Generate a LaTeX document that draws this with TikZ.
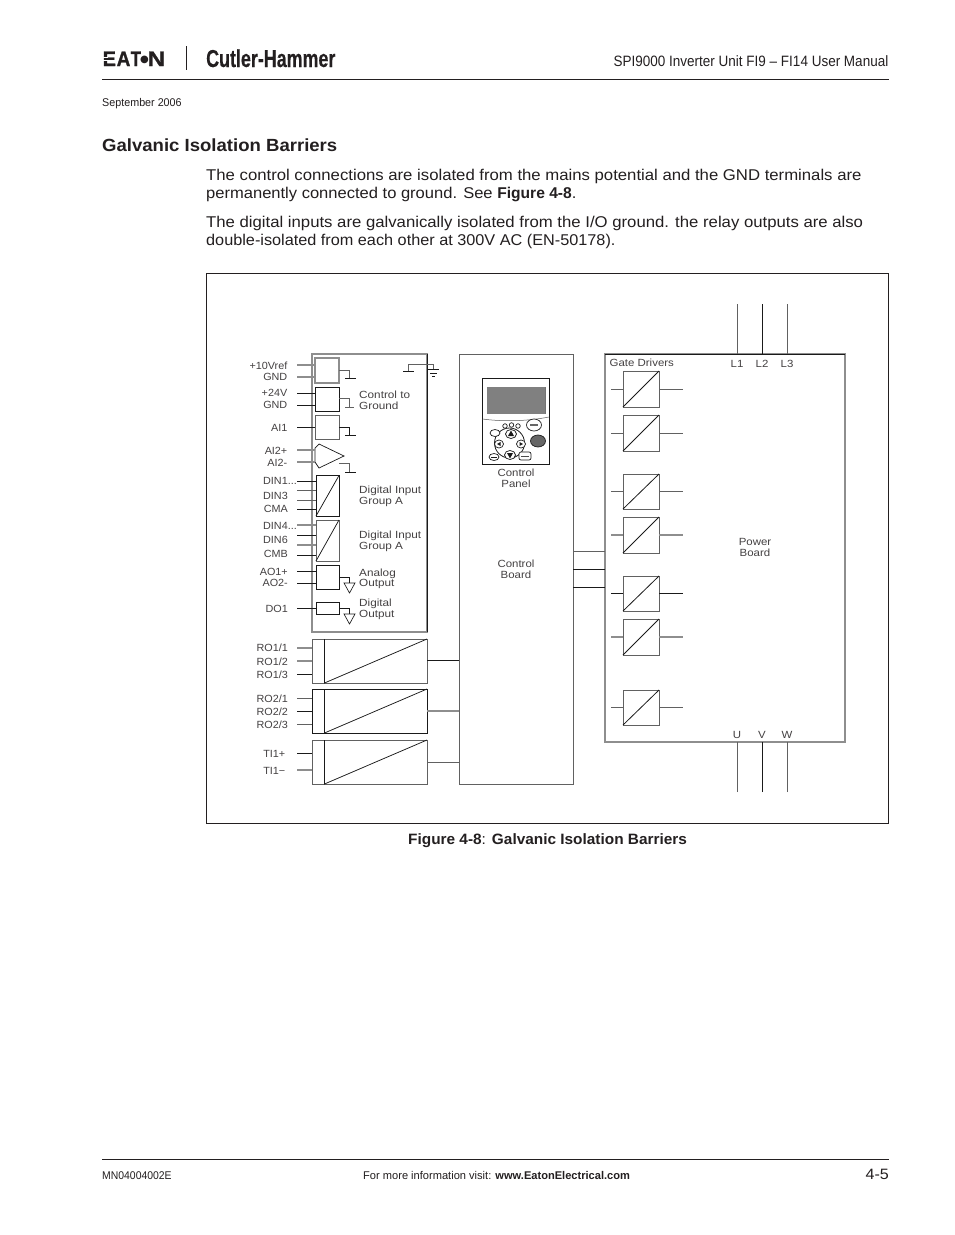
\documentclass[tikz,border=0pt]{standalone}
\usepackage{fontspec}
\setmainfont{Liberation Sans}[FakeStretch=1.072]
\newfontfamily\bodyb[FakeStretch=1.06]{Liberation Sans}
\newfontfamily\bodyc[FakeStretch=1.042]{Liberation Sans}
\newfontfamily\bodybf[FakeStretch=1.0]{Liberation Sans Bold}
\newfontfamily\headfont[FakeStretch=1.054]{Liberation Sans Bold}
\newfontfamily\capfont[FakeStretch=1.026]{Liberation Sans Bold}
\newfontfamily\caprfont[FakeStretch=1.026]{Liberation Sans}
\newfontfamily\manfont[FakeStretch=0.90]{Liberation Sans}
\newfontfamily\datefont[FakeStretch=0.96]{Liberation Sans}
\newfontfamily\footfont[FakeStretch=0.93]{Liberation Sans}
\newfontfamily\footnfont[FakeStretch=0.99]{Liberation Sans}
\newfontfamily\footbfont[FakeStretch=0.99]{Liberation Sans Bold}
\newfontfamily\labfont[FakeStretch=1.1]{Liberation Sans}
\newfontfamily\lableft[FakeStretch=1.04]{Liberation Sans}
\newfontfamily\labright[FakeStretch=1.13]{Liberation Sans}
\newfontfamily\heavycond[FakeStretch=0.73,FakeBold=0.3]{Liberation Sans Bold}
\newfontfamily\logoE[FakeStretch=0.95,FakeBold=1.2]{Liberation Sans Bold}
\newfontfamily\logoA[FakeStretch=0.9,FakeBold=1.2]{Liberation Sans Bold}
\newfontfamily\logoT[FakeStretch=0.8,FakeBold=1.2]{Liberation Sans Bold}
\newfontfamily\logoN[FakeStretch=1.15,FakeBold=1.2]{Liberation Sans Bold}
\newfontfamily\logoO{DejaVu Sans}
\definecolor{ink}{HTML}{231F20}
\definecolor{midg}{HTML}{8E8E8E}
\definecolor{dk}{HTML}{1A1A1A}
\usetikzlibrary{shapes.geometric}
\tikzset{
  page/.style={inner sep=0pt,text=ink,anchor=base west},
  lab/.style={inner sep=0pt,text=ink!85,font=\lableft\fontsize{10.4}{10.4}\selectfont,anchor=base east},
  labl/.style={inner sep=0pt,text=ink!85,font=\labright\fontsize{10.4}{10.4}\selectfont,anchor=base west},
  labc/.style={inner sep=0pt,text=ink!85,font=\labfont\fontsize{10.4}{10.4}\selectfont,anchor=base},
  wd/.style={draw=dk,line width=0.75pt},
  wg/.style={draw=midg,line width=1.1pt},
  wm/.style={draw=black!62,line width=0.9pt},
  btn/.style={draw=dk,line width=0.7pt,fill=white,ellipse,inner sep=0pt}
}
% name, left, top, right, bottom, style
\newcommand{\rbox}[6]{\pgfmathsetmacro\bw{#4-#2}\pgfmathsetmacro\bh{#5-#3}%
  \node[#6,rectangle,inner sep=0pt,outer sep=0pt,minimum width=\bw pt,minimum height=\bh pt,anchor=north west,fill=white] (#1) at (#2,#3) {};}
% lead from a free end to the west side of a box: id, x, y, box, style
\newcommand{\leadw}[5]{\coordinate (#1) at (#2,#3);\draw[#5] (#1) -- (#1 -| #4.west);}
% isolated converter with leads
\newcommand{\drv}[4]{\rbox{#1}{623}{#2}{659}{#3}{wm}
  \draw[wd,line width=0.8pt] (#1.south west) -- (#1.north east);
  \coordinate (#1a) at (611,{(#2+#3)/2});\coordinate (#1b) at (683,{(#2+#3)/2});
  \draw[#4] (#1a) -- (#1a -| #1.west);\draw[#4] (#1.east |- #1b) -- (#1b);}
\begin{document}
\begin{tikzpicture}[x=1pt,y=-1pt]
\useasboundingbox[fill=white] (0,0) rectangle (954,1235);
% ---------- page header
\node[page,font=\logoE\fontsize{21}{21}\selectfont] (lE) at (102.5,66) {E};
\node[page,font=\logoA\fontsize{21}{21}\selectfont] (lA) at (116.5,66) {A};
\node[page,font=\logoT\fontsize{21}{21}\selectfont] (lT) at (130.5,66) {T};
\node[page,font=\logoO\fontsize{10}{10}\selectfont] (lO) at (140,62.5) {●};
\node[page,font=\logoN\fontsize{21}{21}\selectfont] (lN) at (147.5,66) {N};
\fill[white] (102,57) rectangle (108,58.2);
\fill[white] (102,60) rectangle (108,61.2);
\draw[ink,line width=0.9pt] (186,46) -- (186,70);
\node[page,font=\heavycond\fontsize{24.5}{24.5}\selectfont] (brand) at (206,67) {Cutler-Hammer};
\node[inner sep=0pt,text=ink,anchor=base east,font=\manfont\fontsize{15}{15}\selectfont] (manual) at (888.5,66) {SPI9000 Inverter Unit FI9 – FI14 User Manual};
\draw[ink,line width=0.9pt] (102,79.5) -- (889,79.5);
\node[page,font=\datefont\fontsize{11.2}{11.2}\selectfont] (date) at (102,106) {September 2006};
\node[page,font=\headfont\fontsize{17.6}{17.6}\selectfont] (head) at (102,151.5) {Galvanic Isolation Barriers};
% ---------- body
\node[page,font=\fontsize{15.6}{15.6}\selectfont] (b1) at (206,180) {The control connections are isolated from the mains potential and the GND terminals are};
\node[page,font=\bodyb\fontsize{15.6}{15.6}\selectfont] (b2) at (206,198) {permanently connected to ground. See {\bodybf Figure 4-8}.};
\node[page,font=\fontsize{15.6}{15.6}\selectfont] (b3) at (206,227) {The digital inputs are galvanically isolated from the I/O ground. the relay outputs are also};
\node[page,font=\bodyc\fontsize{15.6}{15.6}\selectfont] (b4) at (206,245) {double-isolated from each other at 300V AC (EN-50178).};
% ---------- figure frame
\draw[ink,line width=0.8pt] (206.5,273.5) rectangle (888.5,823);
\node[page,font=\fontsize{15}{15}\selectfont] (cap) at (408,844) {{\capfont Figure 4-8}{\caprfont :} {\capfont Galvanic Isolation Barriers}};
% ---------- I/O block
\rbox{io}{312}{354}{427}{632}{wg}
\draw[wd] (io.north east) -- (io.south east);
\rbox{b1v}{315}{358}{339}{383}{wg}
\rbox{b24}{315}{387}{339}{411}{wd}
\rbox{bai}{315}{415}{339}{439}{wm}
\draw[wd,line width=0.7pt] (315,448) -- (319,444) -- (344,456) -- (319,468) -- (315,462) -- cycle;
\coordinate (ai2n) at (315,450);\coordinate (ai2s) at (315,462);\coordinate (ai2o) at (339,463);
\rbox{dA}{316}{475.5}{339}{516}{wd}
\draw[wd] (dA.south west) -- (dA.north east);
\rbox{dB}{316}{520}{339}{561}{wm}
\draw[wd] (dB.south west) -- (dB.north east);
\rbox{ao}{316}{565}{339}{589}{wd}
\rbox{do}{316}{602}{339}{614}{wd}
% leads to I/O blocks
\leadw{a1}{297}{365}{b1v}{wg}
\leadw{a2}{297}{377}{b1v}{wg}
\leadw{a3}{297}{393}{b24}{wd}
\leadw{a4}{297}{405}{b24}{wd}
\leadw{a5}{297}{427}{bai}{wd}
\coordinate (a6) at (297,450);\draw[wg] (a6) -- (ai2n);
\coordinate (a7) at (297,462);\draw[wg] (a7) -- (ai2s);
\leadw{a8}{297}{481}{dA}{wd}
\leadw{a9}{297}{490}{dA}{wm}
\leadw{a10}{297}{500}{dA}{wm}
\leadw{a11}{297}{509}{dA}{wd}
\leadw{a12}{297}{525}{dB}{wg}
\leadw{a13}{297}{535}{dB}{wd}
\leadw{a14}{297}{545}{dB}{wg}
\leadw{a15}{297}{555}{dB}{wd}
\leadw{a16}{297}{571}{ao}{wd}
\leadw{a17}{297}{583}{ao}{wd}
\leadw{a18}{297}{608}{do}{wd}
% ground stubs
\draw[wm] (b1v.east |- 0,370) -- (349,370) -- (349,378);
\coordinate (t1a) at (345,378);\coordinate (t1b) at (356,378);\draw[wd] (t1a) -- (t1b);
\draw[wm] (b24.east |- 0,398) -- (349,398) -- (349,407);
\coordinate (t2a) at (345,407);\coordinate (t2b) at (354,407);\draw[wm] (t2a) -- (t2b);
\draw[wd] (bai.east |- 0,427) -- (349,427) -- (349,435);
\coordinate (t3a) at (345,435);\coordinate (t3b) at (356,435);\draw[wd] (t3a) -- (t3b);
\draw[wm] (ai2o) -- (349,463) -- (349,472);
\coordinate (t4a) at (345,472);\coordinate (t4b) at (356,472);\draw[wd] (t4a) -- (t4b);
% chassis earth
\coordinate (e1) at (403,371);\coordinate (e2) at (414,371);\draw[wd] (e1) -- (e2);
\draw[wm] (408,371) -- (408,364) -- (433,364) -- (433,369);
\draw[wd] (428,369.5) -- (439,369.5) (430,373) -- (437,373) (432,376.5) -- (435,376.5);
% output grounds
\draw[wd] (ao.east |- 0,577) -- (349,577) -- (349,583);
\draw[wd,line width=0.65pt] (344,583) -- (355,583) -- (349.5,593) -- cycle;
\draw[wd] (do.east |- 0,608) -- (349,608) -- (349,614);
\draw[wd,line width=0.65pt] (344,614) -- (355,614) -- (349.5,624) -- cycle;
% ---------- relays
\rbox{r1}{312}{639}{427}{683}{wm}
\rbox{r2}{312}{689}{427}{733}{wd}
\rbox{r3}{312}{740}{427}{784}{wm}
\draw[wd] (324.5,639) -- (324.5,683) -- (r1.north east);
\draw[wd] (324.5,689) -- (324.5,733) -- (r2.north east);
\draw[wd] (324.5,740) -- (324.5,784) -- (r3.north east);
\leadw{c1}{297}{648}{r1}{wg}
\leadw{c2}{297}{661}{r1}{wg}
\leadw{c3}{297}{674}{r1}{wd}
\leadw{c4}{297}{698}{r2}{wm}
\leadw{c5}{297}{711}{r2}{wd}
\leadw{c6}{297}{724}{r2}{wm}
\leadw{c7}{297}{753}{r3}{wd}
\leadw{c8}{297}{770}{r3}{wg}
% ---------- control board
\rbox{cb}{459}{354}{573}{784}{wm}
\draw[wd] (r1.east |- 0,660.5) -- (cb.west |- 0,660.5);
\draw[wg] (r2.east |- 0,711) -- (cb.west |- 0,711);
\draw[wm] (r3.east |- 0,762) -- (cb.west |- 0,762);
% ---------- control panel
\rbox{cp}{482.5}{378}{549}{464}{wd}
\rbox{scr}{487}{387}{545}{413.5}{draw=black!55,line width=0.4pt}
\fill[black!50] (scr.south west) rectangle (scr.north east);
\draw[black!65,line width=0.5pt] (cp.west |- 0,419) .. controls (505,422) and (528,421) .. (cp.east |- 0,417);
\draw[dk,line width=0.8pt] (509.5,443) circle[radius=15];
\node[btn,minimum width=4.5pt,minimum height=4.5pt] (k1) at (505,426) {};
\node[btn,minimum width=4.5pt,minimum height=4.5pt] (k2) at (511.5,425) {};
\node[btn,minimum width=4.5pt,minimum height=4.5pt] (k3) at (518,426) {};
\node[btn,minimum width=10pt,minimum height=7pt] (k4) at (495,433) {};
\node[btn,minimum width=11pt,minimum height=9pt] (k5) at (511,434) {};
\fill[dk] (511,430.5) -- (514,436) -- (508,436) -- cycle;
\node[btn,minimum width=9pt,minimum height=8pt] (k6) at (499,444) {};
\fill[dk] (497,444) -- (500.5,442) -- (500.5,446) -- cycle;
\node[btn,minimum width=9pt,minimum height=8pt] (k7) at (521,444) {};
\fill[dk] (523,444) -- (519.5,442) -- (519.5,446) -- cycle;
\node[btn,minimum width=11pt,minimum height=9pt] (k8) at (510,455) {};
\fill[dk] (510,458.5) -- (507,453) -- (513,453) -- cycle;
\node[btn,minimum width=10pt,minimum height=7pt] (k9) at (494,457) {};
\fill[dk] (491,456.5) rectangle (497,457.5);
\node[btn,rectangle,rounded corners=2pt,minimum width=12pt,minimum height=8pt] (k10) at (525,456) {};
\fill[black!70] (521,455.5) rectangle (529,457);
\node[btn,minimum width=15pt,minimum height=12pt] (k11) at (534,425) {};
\fill[black!60] (530,424) rectangle (538,426);
\node[btn,fill=black!60,minimum width=15pt,minimum height=12pt] (k12) at (538,441) {};
% ---------- power board
\rbox{pb}{605}{354}{845}{742}{wg}
\draw[wd,line width=0.7pt] (pb.north west) -- (pb.north east);
\draw[wm] (cb.east |- 0,551.5) -- (pb.west |- 0,551.5);
\draw[wd] (cb.east |- 0,569) -- (pb.west |- 0,569);
\draw[wd] (cb.east |- 0,587) -- (pb.west |- 0,587);
\drv{g1}{371}{407}{wm}
\drv{g2}{415}{451}{wm}
\drv{g3}{474}{509}{wm}
\drv{g4}{517}{553}{wg}
\drv{g5}{576}{611}{wd}
\drv{g6}{619}{655}{wg}
\drv{g7}{690}{725}{wm}
\coordinate (L1) at (737.5,304);\coordinate (L2) at (762.5,304);\coordinate (L3) at (787.5,304);
\coordinate (U) at (737.5,792);\coordinate (V) at (762.5,792);\coordinate (W) at (787.5,792);
\draw[wm] (L1) -- (L1 |- pb.north);\draw[wd] (L2) -- (L2 |- pb.north);\draw[wm] (L3) -- (L3 |- pb.north);
\draw[wm] (U) -- (U |- pb.south);\draw[wd] (V) -- (V |- pb.south);\draw[wm] (W) -- (W |- pb.south);
% ---------- diagram labels
\node[lab] (t1) at (287.5,369) {+10Vref};
\node[lab] (t2) at (287.5,380.5) {GND};
\node[lab] (t3) at (287.5,396) {+24V};
\node[lab] (t4) at (287.5,408) {GND};
\node[lab] (t5) at (287.5,431) {AI1};
\node[lab] (t6) at (287.5,454) {AI2+};
\node[lab] (t7) at (287.5,466) {AI2-};
\node[lab] (t8) at (297,484) {DIN1...};
\node[lab] (t9) at (288,499) {DIN3};
\node[lab] (t10) at (288,512) {CMA};
\node[lab] (t11) at (297,529) {DIN4...};
\node[lab] (t12) at (288,543) {DIN6};
\node[lab] (t13) at (288,557) {CMB};
\node[lab] (t14) at (288,575) {AO1+};
\node[lab] (t15) at (288,586) {AO2-};
\node[lab] (t16) at (288,612) {DO1};
\node[lab] (t17) at (288,651) {RO1/1};
\node[lab] (t18) at (288,665) {RO1/2};
\node[lab] (t19) at (288,678) {RO1/3};
\node[lab] (t20) at (288,702) {RO2/1};
\node[lab] (t21) at (288,715) {RO2/2};
\node[lab] (t22) at (288,728) {RO2/3};
\node[lab] (t23) at (285.5,757) {TI1+};
\node[lab] (t24) at (285.5,774) {TI1−};
\node[labl] (u1) at (359,398) {Control to};
\node[labl] (u2) at (359,409) {Ground};
\node[labl] (u3) at (359,493) {Digital Input};
\node[labl] (u4) at (359,504) {Group A};
\node[labl] (u5) at (359,538) {Digital Input};
\node[labl] (u6) at (359,549) {Group A};
\node[labl] (u7) at (359,576) {Analog};
\node[labl] (u8) at (359,586) {Output};
\node[labl] (u9) at (359,606) {Digital};
\node[labl] (u10) at (359,617) {Output};
\node[labc] (v1) at (516,476) {Control};
\node[labc] (v2) at (516,487) {Panel};
\node[labc] (v3) at (516,567) {Control};
\node[labc] (v4) at (516,578) {Board};
\node[labc] (v5) at (755,545) {Power};
\node[labc] (v6) at (755,556) {Board};
\node[labc,anchor=base west] (w0) at (609.5,366) {Gate Drivers};
\node[labc] (w1) at (737,367) {L1};
\node[labc] (w2) at (762,367) {L2};
\node[labc] (w3) at (787,367) {L3};
\node[labc] (w4) at (737,738) {U};
\node[labc] (w5) at (762,738) {V};
\node[labc] (w6) at (787,738) {W};
% ---------- footer
\draw[ink,line width=0.8pt] (102,1159.5) -- (889,1159.5);
\node[page,font=\footfont\fontsize{11.2}{11.2}\selectfont] (f1) at (102,1179) {MN04004002E};
\node[page,font=\footnfont\fontsize{11.2}{11.2}\selectfont] (f2) at (363,1179) {For more information visit: {\footbfont www.EatonElectrical.com}};
\node[inner sep=0pt,text=ink,anchor=base east,font=\fontsize{15}{15}\selectfont] (f3) at (889,1179.5) {4-5};
\end{tikzpicture}
\end{document}
